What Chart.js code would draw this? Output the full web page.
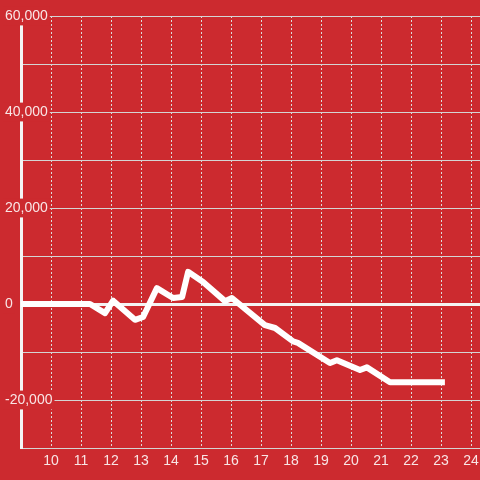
<!DOCTYPE html>
<html>
<head>
<meta charset="utf-8">
<script src="https://cdn.jsdelivr.net/npm/chart.js@4/dist/chart.umd.min.js"></script>
<style>
  html, body { margin: 0; padding: 0; background: #cc2a2f; }
  canvas { display: block; }
</style>
</head>
<body>
<canvas id="c" width="480" height="480"></canvas>
<script>
// Data
const hours = [8.8, 11.3, 11.8, 12.07, 12.8, 13.07, 13.53, 14.07, 14.37, 14.57, 15.07, 15.8, 16.03, 17.13, 17.47, 18.07, 18.23, 19.3, 19.53, 20.3, 20.53, 21.3, 23.13];
const values = [0, 0, -1900, 700, -3300, -2700, 3300, 1250, 1450, 6700, 4600, 600, 1250, -4400, -5000, -7800, -8100, -12300, -11700, -13750, -13200, -16300, -16300];
const xTickValues = [10, 11, 12, 13, 14, 15, 16, 17, 18, 19, 20, 21, 22, 23, 24];
const yLabelledValues = [-20000, 0, 20000, 40000, 60000];

const BG = '#cc2a2f';
Chart.defaults.font.family = "'Liberation Sans', Arial, sans-serif";
Chart.defaults.font.size = 14;

new Chart(document.getElementById('c'), {
  type: 'line',
  data: {
    datasets: [{
      data: hours.map((h, i) => ({ x: h, y: values[i] })),
      borderColor: '#ffffff',
      borderWidth: 6,
      pointRadius: 0,
      tension: 0,
      borderJoinStyle: 'round',
      fill: false
    }]
  },
  options: {
    responsive: false,
    animation: false,
    devicePixelRatio: 1,
    layout: { padding: { top: 16, left: 5, right: 0, bottom: 0 } },
    plugins: { legend: { display: false }, tooltip: { enabled: false } },
    scales: {
      x: {
        type: 'linear',
        min: 9,
        max: 24.3,
        afterBuildTicks: s => { s.ticks = xTickValues.map(v => ({ value: v })); },
        afterFit: s => { s.height = 32; s.paddingLeft = 0; s.paddingRight = 0; },
        ticks: {
          color: 'rgba(255,255,255,0.88)',
          padding: 5,
          maxRotation: 0,
          autoSkip: false,
          callback: v => String(v)
        },
        grid: { color: '#dcdcdc', lineWidth: 1, drawTicks: false, borderDash: [2, 2] },
        border: { display: false, dash: [2, 2] }
      },
      y: {
        type: 'linear',
        min: -30000,
        max: 60000,
        afterFit: s => { s.width = 16; },
        ticks: {
          stepSize: 10000,
          color: 'rgba(255,255,255,0.88)',
          mirror: true,
          padding: -16,
          crossAlign: 'near',
          showLabelBackdrop: ctx => !!(ctx.tick && yLabelledValues.includes(ctx.tick.value)),
          backdropColor: BG,
          backdropPadding: { top: 1, bottom: 1, left: 2, right: 2 },
          callback: v => yLabelledValues.includes(v) ? v.toLocaleString('en-US') : ''
        },
        grid: {
          drawTicks: false,
          color: ctx => (ctx.tick && ctx.tick.value === 0) ? '#f4f4f4' : '#d4d4d4',
          lineWidth: ctx => (ctx.tick && ctx.tick.value === 0) ? 3 : 1
        },
        border: { display: true, color: '#f4f4f4', width: 3 }
      }
    }
  }
});
</script>
</body>
</html>
